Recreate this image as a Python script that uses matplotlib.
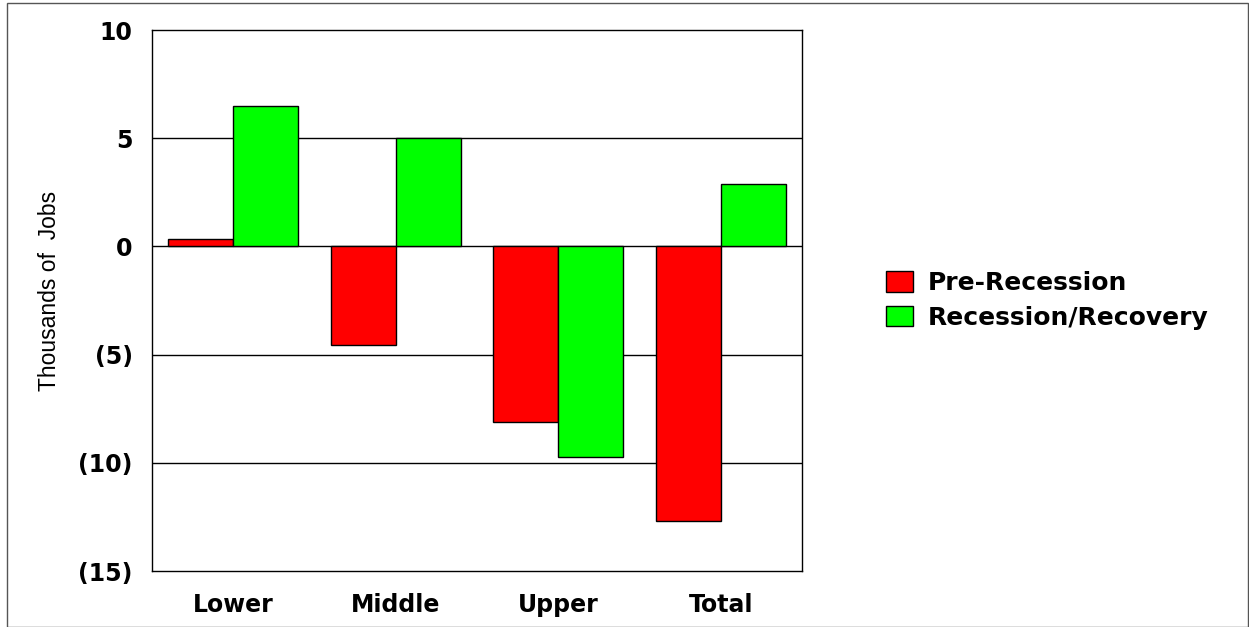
import numpy as np
import matplotlib.pyplot as plt
from matplotlib.patches import Rectangle
from matplotlib import font_manager

# job change by wage tier, thousands
categories = ["Lower", "Middle", "Upper", "Total"]
pre_recession = [0.35, -4.55, -8.1, -12.7]
recession_recovery = [6.5, 5.0, -9.75, 2.87]
series_names = ["Pre-Recession", "Recession/Recovery"]
y_ticks = [10, 5, 0, -5, -10, -15]
y_tick_labels = ["10", "5", "0", "(5)", "(10)", "(15)"]

names = {f.name for f in font_manager.fontManager.ttflist}
narrow = "Liberation Sans Narrow" if "Liberation Sans Narrow" in names else "Liberation Sans"
bold_font = {"family": "DejaVu Sans", "weight": "bold"}

fig = plt.figure(figsize=(12.49, 6.27), dpi=100)
ax = fig.add_axes([152 / 1249, 1 - 571 / 627, 650 / 1249, 541 / 627])

x = np.arange(len(categories))
w = 0.4
ax.bar(x - w / 2, pre_recession, w, color="#FF0000", edgecolor="black", linewidth=1,
       label=series_names[0], zorder=3)
ax.bar(x + w / 2, recession_recovery, w, color="#00FF00", edgecolor="black", linewidth=1,
       label=series_names[1], zorder=3)

ax.set_xlim(-0.5, 3.5)
ax.set_ylim(-15, 10)
ax.set_yticks(y_ticks)
ax.set_yticklabels(y_tick_labels, fontsize=17, **bold_font)
ax.set_xticks(x)
ax.set_xticklabels(categories, fontsize=17, **bold_font)
ax.tick_params(axis="both", length=0)
ax.tick_params(axis="y", pad=14)
ax.tick_params(axis="x", pad=16)
for v in [5, 0, -5, -10]:
    ax.axhline(v, color="black", linewidth=1, zorder=1)
for s in ax.spines.values():
    s.set_color("black")
    s.set_linewidth(1)

fig.text(50 / 1249, 1 - 291 / 627, "Thousands of  Jobs", rotation=90, ha="center", va="center",
         fontsize=16.5, family=[narrow, 'DejaVu Sans'])

fig.legend(loc="upper left", bbox_to_anchor=(886 / 1249, 1 - 271 / 627), frameon=False,
           prop={"size": 18, **bold_font}, handlelength=1.08, handleheight=0.9,
           handletextpad=0.6, labelspacing=0.42, borderpad=0, borderaxespad=0)

# thin frame round the whole picture
fig.patches.append(Rectangle((7 / 1249, 0), 1 - 8 / 1249, 1 - 3 / 627, transform=fig.transFigure,
                             fill=False, edgecolor="#555555", linewidth=1))

fig.savefig("out.png", dpi=100)
